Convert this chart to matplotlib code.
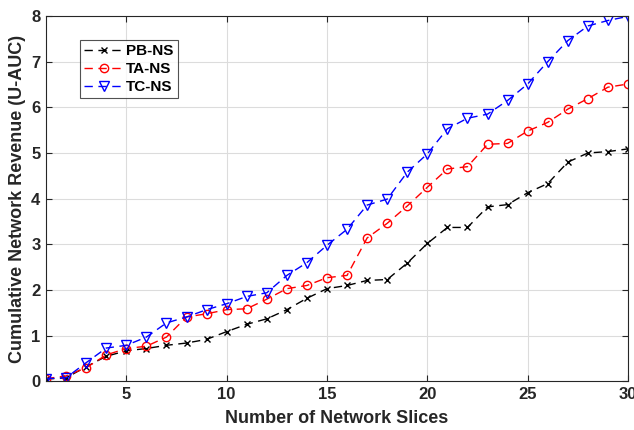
import numpy as np
import matplotlib.pyplot as plt

plt.rcParams['font.family'] = ['Liberation Sans', 'DejaVu Sans']
plt.rcParams['font.weight'] = 'bold'

# Number of network slices
slices = np.arange(1, 31)

# Cumulative revenue (U-AUC)
pb_ns = [0.05, 0.08, 0.32, 0.55, 0.67, 0.72, 0.79, 0.84, 0.92, 1.09,
         1.25, 1.37, 1.57, 1.82, 2.03, 2.10, 2.21, 2.23, 2.59, 3.02,
         3.37, 3.37, 3.82, 3.87, 4.13, 4.33, 4.80, 5.00, 5.03, 5.09]
ta_ns = [0.06, 0.12, 0.30, 0.58, 0.72, 0.77, 0.97, 1.41, 1.48, 1.57,
         1.59, 1.80, 2.03, 2.10, 2.27, 2.32, 3.14, 3.46, 3.84, 4.25,
         4.65, 4.70, 5.19, 5.21, 5.48, 5.67, 5.96, 6.19, 6.44, 6.51]
tc_ns = [0.06, 0.08, 0.41, 0.73, 0.79, 0.97, 1.28, 1.41, 1.57, 1.70,
         1.86, 1.94, 2.32, 2.60, 2.98, 3.33, 3.86, 3.99, 4.58, 4.98,
         5.53, 5.76, 5.85, 6.15, 6.51, 7.00, 7.46, 7.78, 7.90, 7.99]

xticks = [5, 10, 15, 20, 25, 30]
yticks = [0, 1, 2, 3, 4, 5, 6, 7, 8]

fig = plt.figure(figsize=(6.34, 4.30), dpi=100)
ax = fig.add_axes([0.0726, 0.113, 0.918, 0.850])

ax.plot(slices, pb_ns, color='black', linestyle='--', linewidth=1.0,
        marker='x', markersize=5, markeredgewidth=1.0, label='PB-NS',
        dashes=(6, 4))
ax.plot(slices, ta_ns, color='red', linestyle='--', linewidth=1.0,
        marker='o', markersize=6, markerfacecolor='none', markeredgewidth=1.0,
        label='TA-NS', dashes=(6, 4))
ax.plot(slices, tc_ns, color='blue', linestyle='--', linewidth=1.0,
        marker='v', markersize=6.5, markerfacecolor='none', markeredgewidth=1.0,
        label='TC-NS', dashes=(6, 4))

ax.set_xlim(1, 30)
ax.set_ylim(0, 8)
ax.set_xticks(xticks)
ax.set_yticks(yticks)
ax.tick_params(direction='in', top=True, right=True, labelsize=12,
               length=4, width=0.8, colors='#262626', labelcolor='#262626', pad=4)
for lab in ax.get_xticklabels() + ax.get_yticklabels():
    lab.set_fontweight('bold')
ax.grid(True, color='#dcdcdc', linewidth=0.8)
ax.set_axisbelow(True)
for sp in ax.spines.values():
    sp.set_color('#262626')
    sp.set_linewidth(0.8)

ax.set_xlabel('Number of Network Slices', fontsize=13, fontweight='bold',
              color='#262626', labelpad=6)
ax.set_ylabel('Cumulative Network Revenue (U-AUC)', fontsize=13,
              fontweight='bold', color='#262626', labelpad=4)

leg = ax.legend(loc='upper left', bbox_to_anchor=(0.058, 0.935), fontsize=11,
                frameon=True, fancybox=False, edgecolor='#262626',
                borderpad=0.3, labelspacing=0.25, handlelength=2.6,
                handletextpad=0.1, borderaxespad=0)
leg.get_frame().set_linewidth(0.8)
for t in leg.get_texts():
    t.set_fontweight('bold')

fig.savefig('out.png', dpi=100)
